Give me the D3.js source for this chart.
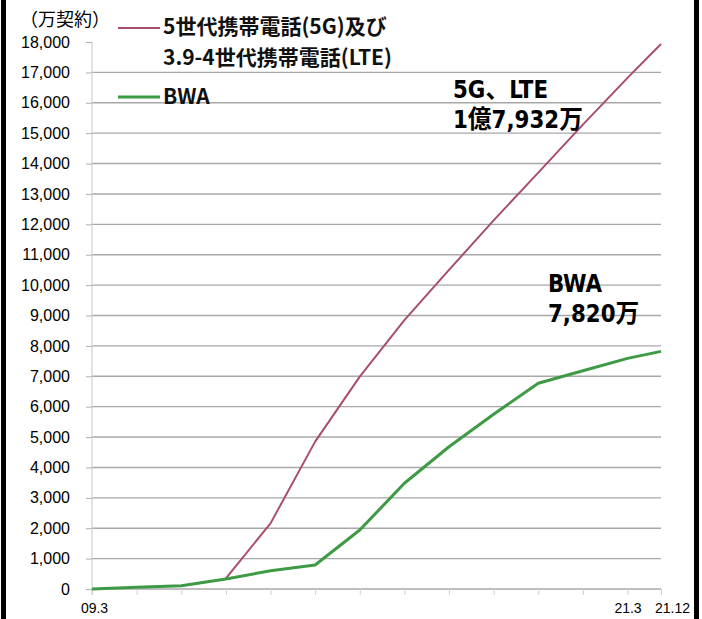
<!DOCTYPE html>
<html>
<head>
<meta charset="utf-8">
<script src="https://cdn.jsdelivr.net/npm/d3@7"></script>
<style>
  html, body { margin: 0; padding: 0; background: #fff; }
  svg { display: block; }
</style>
</head>
<body>
<svg id="chart" width="702" height="619"></svg>
<script>
// ---- data ----
const categories = ["09.3","10.3","11.3","12.3","13.3","14.3","15.3","16.3","17.3","18.3","19.3","20.3","21.3","21.12"];
const lteValues  = [null, null, null, 350, 2160, 4850, 6990, 8850, 10500, 12130, 13700, 15280, 16820, 17932];
const bwaValues  = [0, 60, 110, 330, 600, 790, 1940, 3480, 4680, 5750, 6770, 7180, 7590, 7820];
const yTicks = [0,1000,2000,3000,4000,5000,6000,7000,8000,9000,10000,11000,12000,13000,14000,15000,16000,17000,18000];
const xLabelShown = ["09.3","21.3","21.12"];
const seriesNames = ["5世代携帯電話(5G)及び", "3.9-4世代携帯電話(LTE)", "BWA"];
const yUnit = "（万契約）";
const annoLTE = ["5G、LTE", "1億7,932万"];
const annoBWA = ["BWA", "7,820万"];

// ---- helpers ----
const toYear = s => { const [yy, m] = s.split(".").map(Number); return 2000 + yy + (m - 1) / 12; };
const times = categories.map(toYear);

const svg = d3.select("#chart");
const x = d3.scaleLinear().domain([times[0], times[times.length - 1]]).range([92, 661]);
const y = d3.scaleLinear().domain([0, 18000]).range([589, 42]);

const latin = "'Liberation Sans', Arial, sans-serif";
const cjk = "'Noto Sans CJK JP', 'Noto Sans', sans-serif";
const cond = "'DejaVu Sans Condensed', 'Noto Sans CJK JP', sans-serif";

// gridlines
svg.append("g").selectAll("line").data(yTicks.filter(v => v > 0 && v < 18000)).join("line")
  .attr("x1", x.range()[0]).attr("x2", x.range()[1])
  .attr("y1", d => y(d)).attr("y2", d => y(d))
  .attr("stroke", "#a8a8a8").attr("stroke-width", 1.4);

// y axis
const yAxis = d3.axisLeft(y).tickValues(yTicks).tickSize(6).tickFormat(d3.format(","));
const gy = svg.append("g").attr("transform", `translate(${x.range()[0]},0)`).call(yAxis);
gy.select(".domain").attr("stroke", "#d0d0d0").attr("stroke-width", 1.2).attr("d", `M-0,${y(18000)}V${y(0) + 6}`);
gy.selectAll(".tick line").attr("stroke", "#b0b0b0");
gy.selectAll(".tick text").attr("x", -22).attr("font-family", latin).attr("font-size", 16).attr("fill", "#000");

// x axis baseline + ticks
const xAxis = d3.axisBottom(x).tickValues(times).tickSize(6)
  .tickFormat((d, i) => xLabelShown.includes(categories[i]) ? categories[i] : "");
const gx = svg.append("g").attr("transform", `translate(0,${y(0)})`).call(xAxis);
gx.select(".domain").attr("stroke", "#a8a8a8").attr("stroke-width", 1.4).attr("d", `M${x.range()[0]},0H${x.range()[1]}`);
gx.selectAll(".tick line").attr("stroke", "#d0d0d0");
gx.selectAll(".tick text").attr("font-family", latin).attr("font-size", 14).attr("fill", "#000")
  .attr("y", 14)
  .attr("dx", (d, i) => i === categories.length - 1 ? 11 : (i === 0 ? 2 : 0));

// lines
const line = d3.line().defined(d => d.v != null).x(d => x(d.t)).y(d => y(d.v));
const lteData = times.map((t, i) => ({ t, v: lteValues[i] }));
const bwaData = times.map((t, i) => ({ t, v: bwaValues[i] }));
svg.append("path").datum(lteData).attr("d", line).attr("fill", "none")
  .attr("stroke", "#a84e6c").attr("stroke-width", 2).attr("stroke-linejoin", "round");
svg.append("path").datum(bwaData).attr("d", line).attr("fill", "none")
  .attr("stroke", "#3f9a45").attr("stroke-width", 3).attr("stroke-linejoin", "round");

// y unit
svg.append("text").attr("x", 20).attr("y", 26).text(yUnit)
  .attr("font-family", cjk).attr("font-size", 18).attr("fill", "#000");

// legend
const lg = svg.append("g");
lg.append("line").attr("x1", 118).attr("x2", 160).attr("y1", 28).attr("y2", 28)
  .attr("stroke", "#a84e6c").attr("stroke-width", 2);
lg.append("line").attr("x1", 118).attr("x2", 160).attr("y1", 97).attr("y2", 97)
  .attr("stroke", "#3f9a45").attr("stroke-width", 3);
[[seriesNames[0], 34], [seriesNames[1], 65], [seriesNames[2], 104]].forEach(([t, by]) => {
  lg.append("text").attr("x", 163).attr("y", by).text(t)
    .attr("font-family", cjk).attr("font-size", 21).attr("font-weight", 700).attr("fill", "#111");
});

// annotations (one multi-line text each)
function anno(lines, x0, y0, size) {
  const t = svg.append("text")
    .attr("transform", `translate(${x0},${y0}) scale(0.95,1)`)
    .attr("font-family", cond).attr("font-size", size).attr("font-weight", 700).attr("fill", "#000");
  lines.forEach((s, i) => {
    t.append("tspan").attr("x", 0).attr("y", i * 30).text(s);
  });
}
anno(annoLTE, 453, 98, 25);
anno(annoBWA, 548, 292, 25);

// scan border bars
svg.append("rect").attr("x", 1).attr("y", 0).attr("width", 5).attr("height", 619).attr("fill", "#000");
svg.append("rect").attr("x", 694).attr("y", 0).attr("width", 5).attr("height", 619).attr("fill", "#000");
</script>
</body>
</html>
